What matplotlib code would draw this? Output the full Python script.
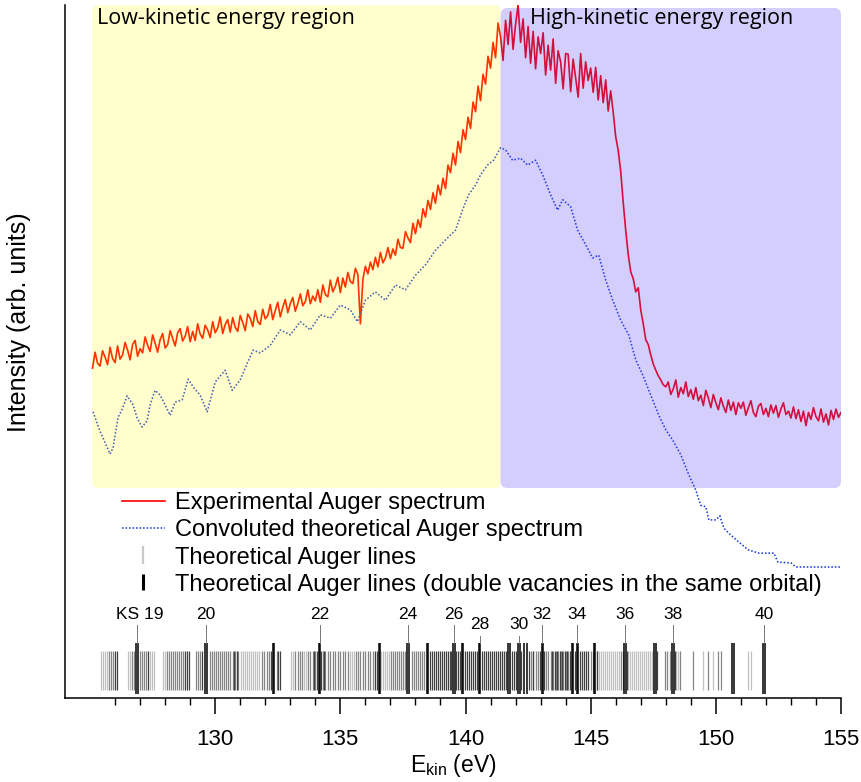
import numpy as np
import matplotlib
matplotlib.use("Agg")
import matplotlib.pyplot as plt
from matplotlib.patches import FancyBboxPatch
from matplotlib.lines import Line2D
from matplotlib.ticker import FixedLocator

plt.rcParams['font.family'] = ['Liberation Sans', 'DejaVu Sans']
plt.rcParams['mathtext.fontset'] = 'custom'
plt.rcParams['mathtext.rm'] = 'Liberation Sans'
plt.rcParams['mathtext.it'] = 'Liberation Sans:italic'

# ---------------- data ----------------
exp_start, exp_stop = 125.1, 155.0
exp_intensity = [
    47.6, 49.9, 48.3, 47.9, 50.1, 49.2, 48.1, 50.6, 49.0, 48.4,
    50.8, 48.9, 49.5, 51.3, 50.2, 48.8, 51.0, 51.6, 49.3, 50.4,
    49.8, 52.1, 50.9, 50.0, 52.4, 51.2, 49.9, 51.7, 52.6, 50.5,
    51.0, 53.0, 51.9, 50.8, 52.7, 53.3, 51.5, 52.2, 53.6, 51.4,
    52.9, 51.6, 54.0, 52.5, 51.9, 53.8, 53.1, 52.0, 54.3, 52.7,
    53.4, 55.0, 52.6, 53.9, 54.6, 52.8, 54.9, 53.5, 52.9, 55.2,
    54.2, 53.0, 55.4, 54.8, 53.6, 55.9, 54.3, 53.9, 56.1, 54.7,
    55.2, 56.8, 54.6, 55.9, 57.1, 55.0, 56.4, 57.5, 55.6, 56.9,
    57.8, 55.8, 56.9, 58.3, 56.6, 57.2, 58.9, 56.9, 58.0, 57.3,
    58.9, 57.1, 59.6, 58.2, 57.9, 60.3, 58.6, 59.4, 60.7, 58.5,
    60.6, 59.3, 61.4, 60.1, 59.8, 62.0, 61.1, 54.0, 60.4, 62.3,
    61.2, 62.9, 61.8, 63.6, 62.2, 64.3, 62.8, 63.5, 65.0, 63.4,
    64.8, 63.9, 66.2, 65.0, 64.9, 67.3, 66.4, 65.7, 68.5, 67.0,
    69.0, 67.9, 70.6, 69.4, 71.8, 70.5, 72.9, 71.4, 74.0, 72.6,
    75.0, 73.5, 76.9, 75.8, 78.6, 76.9, 80.3, 78.7, 82.0, 80.6,
    83.8, 82.2, 86.0, 84.6, 88.3, 86.2, 90.0, 88.6, 92.6, 90.9,
    94.6, 92.4, 97.4, 95.4, 92.0, 97.8, 94.3, 99.0, 93.6, 97.2,
    100.0, 94.6, 98.0, 92.4, 96.9, 91.6, 96.2, 90.8, 95.4, 93.0,
    96.0, 89.9, 94.2, 90.6, 95.1, 88.7, 93.4, 91.8, 87.9, 93.0,
    92.9, 87.5, 92.2, 89.4, 86.7, 93.0, 88.0, 91.8, 89.1, 90.9,
    87.4, 91.0, 86.3, 89.8, 85.9, 89.2, 84.7, 87.6, 84.5, 81.0,
    79.0, 76.0, 71.5, 67.5, 64.0, 61.5, 60.5, 58.6, 59.2, 56.0,
    54.0, 51.7, 51.0, 49.5, 48.2, 47.3, 46.5, 45.9, 45.2, 44.9,
    45.6, 43.8, 44.6, 45.9, 43.4, 44.8, 43.9, 45.6, 43.5, 44.5,
    43.1, 44.8, 42.9, 43.7, 42.2, 44.4, 43.3, 41.9, 43.8, 42.6,
    41.6, 43.3, 42.1, 41.2, 43.0, 41.5, 42.7, 40.9, 42.6, 41.8,
    42.7, 40.8, 41.9, 42.9, 41.2, 40.6, 42.1, 42.5, 40.9, 41.8,
    40.6, 42.3, 41.1, 42.2, 40.5, 41.7, 42.6, 40.9, 41.4, 40.4,
    42.0, 40.3, 41.6, 39.9, 41.4, 39.3, 41.2, 40.2, 41.9, 40.6,
    40.0, 41.7, 39.8, 41.0, 39.4, 41.5, 40.2, 41.7, 40.5, 41.2,
]

theo_energy = [
    125.12, 125.40, 125.80, 125.92, 126.12, 126.28, 126.48, 126.72, 126.88, 127.08,
    127.28, 127.40, 127.60, 127.80, 128.00, 128.20, 128.40, 128.68, 128.92, 129.12,
    129.40, 129.68, 130.00, 130.40, 130.68, 131.00, 131.28, 131.52, 131.80, 132.20,
    132.60, 133.00, 133.40, 133.80, 134.20, 134.60, 135.00, 135.40, 135.68, 136.00,
    136.40, 136.80, 137.20, 137.60, 138.00, 138.40, 138.80, 139.20, 139.60, 139.88,
    140.12, 140.40, 140.60, 140.88, 141.12, 141.40, 141.60, 141.88, 142.20, 142.48,
    142.80, 143.08, 143.40, 143.68, 143.88, 144.20, 144.48, 144.80, 145.08, 145.32,
    145.60, 145.88, 146.20, 146.52, 146.80, 147.08, 147.40, 147.72, 148.00, 148.28,
    148.60, 148.92, 149.20, 149.40, 149.60, 149.72, 150.00, 150.16, 150.32, 150.60,
    150.92, 151.28, 151.72, 152.32, 152.48, 153.00, 153.20, 155.00,
]
theo_intensity = [
    41.3, 38.5, 35.2, 36.1, 40.5, 41.6, 43.6, 42.3, 40.4, 39.1,
    40.0, 42.3, 44.4, 43.7, 42.3, 40.8, 42.7, 43.0, 46.0, 44.9,
    43.7, 41.3, 45.6, 47.3, 44.4, 45.9, 48.3, 50.2, 49.8, 50.9,
    53.1, 52.4, 54.3, 53.1, 55.3, 54.8, 56.7, 56.0, 54.3, 57.4,
    58.6, 57.4, 59.6, 58.9, 61.0, 62.5, 64.6, 66.1, 67.5, 70.4,
    72.6, 74.0, 75.5, 76.9, 77.6, 79.4, 79.1, 77.6, 77.9, 76.9,
    77.6, 75.5, 72.6, 70.4, 71.9, 70.9, 67.5, 65.4, 63.5, 63.9,
    60.3, 57.4, 54.5, 52.4, 48.8, 46.6, 43.7, 40.8, 38.7, 37.2,
    35.1, 32.2, 30.0, 27.8, 27.6, 25.7, 25.7, 26.3, 24.5, 23.5,
    22.5, 21.4, 20.9, 20.9, 19.6, 19.5, 18.9, 18.9,
]

# theoretical Auger line energies (eV), grouped by drawn intensity
lines_light = [
    125.42, 125.50, 125.58, 125.66, 126.52, 126.60, 127.40, 127.48, 127.56, 127.92,
    128.00, 131.02, 131.10, 131.18, 131.26, 131.34, 131.42, 131.50, 131.58, 131.66,
    131.74, 133.02, 133.10, 133.56, 133.64, 135.40, 135.48, 135.56, 136.62, 136.70,
    136.78, 136.86, 136.94, 145.32, 145.40, 145.48, 145.56, 145.64, 145.72, 145.80,
    145.88, 145.96, 146.04, 146.12, 146.50, 146.58, 146.66, 146.74, 146.82, 146.90,
    146.98, 147.06, 147.14, 147.22, 147.30, 147.38, 147.46, 148.40, 148.48, 149.47,
    149.87, 151.27, 151.40,
]
lines_mid = [
    125.74, 125.82, 125.90, 126.68, 126.76, 126.98, 127.06, 127.14, 127.22, 128.08,
    128.16, 128.24, 128.32, 128.40, 128.48, 128.56, 128.64, 128.72, 129.22, 129.30,
    129.38, 129.80, 129.88, 129.96, 130.04, 130.12, 130.20, 130.28, 130.36, 130.44,
    130.52, 130.60, 130.70, 130.80, 130.90, 131.85, 131.95, 132.05, 132.15, 132.45,
    133.20, 133.30, 133.40, 133.48, 133.72, 133.80, 133.90, 134.00, 134.30, 134.40,
    134.50, 134.60, 134.70, 134.80, 134.90, 135.00, 135.10, 135.20, 135.30, 135.64,
    135.72, 135.80, 135.90, 136.00, 136.10, 136.20, 136.30, 137.02, 137.10, 137.18,
    137.26, 137.34, 137.42, 137.50, 137.58, 137.86, 137.94, 138.02, 138.10, 138.18,
    138.26, 138.34, 142.60, 142.70, 142.80, 142.90, 143.20, 143.30, 143.40, 143.50,
    143.60, 143.70, 143.80, 143.90, 144.00, 144.10, 145.00, 145.08, 145.24, 146.20,
    146.28, 147.95, 148.05, 148.15, 148.55, 149.09, 149.67, 150.07, 150.20,
]
lines_dark = [
    125.98, 126.06, 127.30, 128.80, 128.88, 128.96, 129.46, 130.76, 130.86, 132.22,
    132.50, 132.58, 133.95, 134.08, 134.24, 134.35, 136.40, 136.46, 138.60, 138.66,
    138.74, 138.82, 138.90, 138.98, 139.06, 139.14, 139.22, 139.30, 139.38, 139.44,
    139.62, 139.70, 139.78, 139.96, 140.04, 140.12, 140.20, 140.28, 140.36, 140.44,
    140.66, 140.74, 140.82, 140.90, 140.98, 141.06, 141.14, 141.22, 141.30, 141.38,
    141.46, 141.54, 141.62, 141.84, 141.92, 142.00, 142.22, 142.52, 142.68, 142.98,
    143.14, 143.44, 143.56, 143.66, 143.76, 143.86, 143.96, 144.06, 144.16, 144.36,
    144.58, 144.66, 144.74, 144.82, 144.90, 145.26, 146.46, 147.66, 148.36,
]
# lines for double vacancies in the same orbital
lines_double = [
    126.84, 126.90, 129.61, 129.67, 132.30, 132.36, 134.14, 134.20, 136.55, 136.60,
    137.68, 137.74, 138.46, 138.52, 139.50, 139.56, 139.84, 139.90, 140.53, 140.59,
    141.70, 141.76, 142.10, 142.16, 142.32, 142.44, 143.04, 143.10, 144.24, 144.30,
    144.44, 144.50, 145.13, 145.19, 146.34, 146.40, 147.54, 147.60, 148.26, 148.32,
    150.66, 150.72, 151.90, 151.96,
]
label_text = ['KS 19', '20', '22', '24', '26', '28', '30', '32', '34', '36', '38', '40']
label_energy = [126.87, 129.64, 134.17, 137.71, 139.53, 140.56, 142.13, 143.07,
                144.47, 146.37, 148.29, 151.93]
label_low = [False, False, False, False, False, True, True, False, False, False, False, False]

low_region = (125.08, 141.4)
high_region = (141.4, 155.0)

# ---------------- figure ----------------
W, H = 862, 782
fig = plt.figure(figsize=(W / 100, H / 100), dpi=100)
ax = fig.add_axes([65 / W, 1 - 698 / H, 776 / W, 693 / H])
xmin, xmax = 124.0, 155.0
ax.set_xlim(xmin, xmax)
ax.set_ylim(0, 100)

exp_energy = np.linspace(exp_start, exp_stop, len(exp_intensity))
ax.plot(exp_energy, exp_intensity, color='#ff0000', lw=1.2, zorder=2,
        label='Experimental Auger spectrum')
ax.plot(theo_energy, theo_intensity, color='#1f3fe0', lw=1.15,
        linestyle=(0, (1, 1.2)), zorder=2,
        label='Convoluted theoretical Auger spectrum')

# Auger stick lines
ax.vlines(lines_light, 1.15, 6.8, colors='#c0c0c0', lw=0.9, zorder=3)
ax.vlines(lines_mid, 1.15, 6.8, colors='#858585', lw=0.9, zorder=3)
ax.vlines(lines_dark, 1.15, 6.8, colors='#404040', lw=0.9, zorder=3)
ax.vlines(lines_double, 0.6, 7.9, colors='black', lw=1.1, zorder=4)

for t, e, low in zip(label_text, label_energy, label_low):
    ty = 10.6 if low else 12.1
    ax.text(e + (0.12 if t.startswith('KS') else 0), ty, t, ha='center', va='center',
            fontsize=12.5, zorder=5)
    ax.plot([e, e], [ty - 1.6, 7.9], color='#777777', lw=0.7, zorder=4)

# shaded regions (semi-transparent overlays)
aspect = 776 / 693
def add_region(e0, e1, y0, y1, color, alpha):
    x0 = (e0 - xmin) / (xmax - xmin)
    x1 = (e1 - xmin) / (xmax - xmin)
    p = FancyBboxPatch((x0, y0), x1 - x0, y1 - y0,
                       boxstyle='round,pad=0,rounding_size=0.009',
                       mutation_aspect=aspect, transform=ax.transAxes,
                       facecolor=color, edgecolor='none', alpha=alpha,
                       zorder=3, clip_on=False)
    ax.add_patch(p)

add_region(low_region[0], low_region[1], 0.303, 1.0, '#fffd00', 0.2)
add_region(high_region[0], high_region[1], 0.303, 0.9957, '#533ff7', 0.25)

ax.text(0.0415, 0.981, 'Low-kinetic energy region', transform=ax.transAxes,
        family='Open Sans', fontsize=15.5, va='center', ha='left', zorder=6)
ax.text(0.5995, 0.981, 'High-kinetic energy region', transform=ax.transAxes,
        family='Open Sans', fontsize=15.5, va='center', ha='left', zorder=6)

# legend
h_light = Line2D([], [], color='#c8c8c8', marker='|', linestyle='none',
                 markersize=13, markeredgewidth=1.6)
h_dark = Line2D([], [], color='black', marker='|', linestyle='none',
                markersize=11, markeredgewidth=2.2)
handles = ax.get_lines()[:2] + [h_light, h_dark]
labels = ['Experimental Auger spectrum', 'Convoluted theoretical Auger spectrum',
          'Theoretical Auger lines',
          'Theoretical Auger lines (double vacancies in the same orbital)']
leg = ax.legend(handles, labels, loc='upper left', bbox_to_anchor=(0.0735, 0.297),
                frameon=False, fontsize=17.0, handlelength=1.8, handletextpad=0.46,
                labelspacing=0.22, borderpad=0, borderaxespad=0)
leg.set_zorder(7)

# axes styling
for s in ('top', 'right'):
    ax.spines[s].set_visible(False)
for s in ('left', 'bottom'):
    ax.spines[s].set_linewidth(1.1)
ax.set_yticks([])
ax.xaxis.set_major_locator(FixedLocator([130, 135, 140, 145, 150, 155]))
ax.xaxis.set_minor_locator(FixedLocator(list(range(126, 155))))
ax.tick_params(axis='x', which='major', length=11.5, width=1.1, labelsize=16, pad=11)
ax.tick_params(axis='x', which='minor', length=4.7, width=1.0)
ax.set_ylabel('Intensity (arb. units)', fontsize=18)
ax.yaxis.set_label_coords(-0.044, 0.543)
ax.set_xlabel(r'E$_{\mathregular{kin}}$ (eV)', fontsize=16.5, labelpad=1)

fig.savefig('out.png', dpi=100)
